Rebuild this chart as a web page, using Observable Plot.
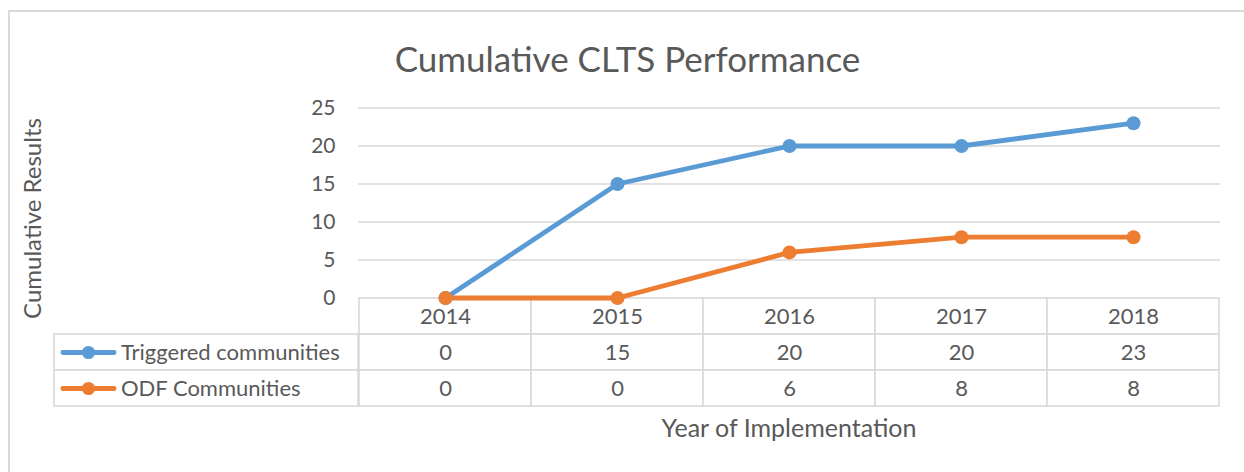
<!DOCTYPE html>
<html>
<head>
<meta charset="utf-8">
<script src="https://cdn.jsdelivr.net/npm/d3@7"></script>
<script src="https://cdn.jsdelivr.net/npm/@observablehq/plot@0.6"></script>
<style>
  html, body { margin: 0; padding: 0; background: #fff; overflow: hidden; }
  body { width: 1244px; height: 472px; position: relative; font-family: Lato, "Open Sans", sans-serif; color: #595959; }
  #clip { position: absolute; left: 0; top: 0; width: 1244px; height: 472px; overflow: hidden; }
  #frame { position: absolute; left: 8px; top: 10px; width: 1236px; height: 462px; border-left: 2px solid #dadada; border-top: 2px solid #dadada; box-sizing: border-box; }
  .layer { position: absolute; left: 0; top: 0; }
  #title { position: absolute; left: 0; width: 1255px; top: 41px; text-align: center; font-size: 35px; line-height: 1; white-space: nowrap; }
  #xtitle { position: absolute; left: 0; width: 1578px; top: 415px; text-align: center; font-size: 25px; line-height: 1; white-space: nowrap; }
</style>
</head>
<body>
<div id="clip">
<div id="frame"></div>
<div id="table" class="layer"></div>
<div id="legend" class="layer"></div>
<div id="chart" class="layer"></div>
<div id="title">Cumulative CLTS Performance</div>
<div id="xtitle">Year of Implementation</div>
</div>
<script>
// ---- data ----
const years = ["2014", "2015", "2016", "2017", "2018"];
const seriesNames = ["Triggered communities", "ODF Communities"];
const triggered = [0, 15, 20, 20, 23];
const odf = [0, 0, 6, 8, 8];
const yTicks = [0, 5, 10, 15, 20, 25];
const colors = ["#5b9bd5", "#ed7d31"];
const title = "Cumulative CLTS Performance";
const yLabel = "Cumulative Results";
const xLabel = "Year of Implementation";

const series = [triggered, odf];
const points = series.flatMap((vals, s) => vals.map((v, i) => ({name: seriesNames[s], year: years[i], value: v})));
const headerRow = "Year";
const cells = [
  ...years.map(y => ({row: headerRow, year: y, text: y})),
  ...points.map(p => ({row: p.name, year: p.year, text: String(p.value)}))
];

const W = 1244, H = 472;
const common = {
  width: W, height: H,
  style: {fontFamily: "Lato, 'Open Sans', sans-serif", background: "transparent", color: "#595959", overflow: "visible"}
};
const grid = "#d9d9d9";

// ---- data table (year columns) ----
const table = Plot.plot({
  ...common,
  marginLeft: 358, marginRight: 24, marginTop: 297.5, marginBottom: 65.5,
  x: {type: "band", domain: years, padding: 0, axis: null},
  y: {type: "band", domain: [headerRow, ...seriesNames], padding: 0, axis: null},
  marks: [
    Plot.cell(cells, {x: "year", y: "row", fill: "white", stroke: grid, strokeWidth: 1.6}),
    Plot.text(cells, {x: "year", y: "row", text: "text", fontSize: 22, fill: "#595959"})
  ]
});
document.getElementById("table").appendChild(table);

// ---- legend column of the table ----
const swatch = {
  draw(ctx) {
    const w = 28, h = 2.4, r = 6.6;
    ctx.moveTo(-w + h, -h);
    ctx.lineTo(w - h, -h);
    ctx.arc(w - h, 0, h, -Math.PI / 2, Math.PI / 2);
    ctx.lineTo(-w + h, h);
    ctx.arc(-w + h, 0, h, Math.PI / 2, 3 * Math.PI / 2);
    ctx.closePath();
    ctx.moveTo(r, 0);
    ctx.arc(0, 0, r, 0, 2 * Math.PI);
    ctx.closePath();
  }
};
const legend = Plot.plot({
  ...common,
  marginLeft: 54, marginRight: W - 358, marginTop: 333.4, marginBottom: 65.5,
  y: {type: "band", domain: seriesNames, padding: 0, axis: null},
  color: {domain: seriesNames, range: colors},
  marks: [
    Plot.cell(seriesNames, {y: d => d, fill: "white", stroke: grid, strokeWidth: 1.6}),
    Plot.dot(seriesNames, {y: d => d, frameAnchor: "left", dx: 34, symbol: swatch, fill: d => d, stroke: "none"}),
    Plot.text(seriesNames, {y: d => d, text: d => d, frameAnchor: "left", dx: 66.5, textAnchor: "start", fontSize: 22, fill: "#595959"})
  ]
});
document.getElementById("legend").appendChild(legend);

// ---- line chart ----
const chart = Plot.plot({
  ...common,
  marginLeft: 358, marginRight: 24, marginTop: 107.5, marginBottom: H - 297.5,
  x: {type: "band", domain: years, padding: 0, axis: null},
  y: {domain: [0, 25], axis: null},
  color: {domain: seriesNames, range: colors},
  marks: [
    Plot.gridY(yTicks.filter(t => t > 0), {stroke: grid, strokeOpacity: 1, strokeWidth: 1.6}),
    Plot.axisY(yTicks, {tickSize: 0, tickPadding: 23, fontSize: 21, label: null, fill: "#595959"}),
    Plot.text([yLabel], {text: d => d, frameAnchor: "left", textAnchor: "middle", lineAnchor: "middle", rotate: -90, dx: -325, dy: 15.5, fontSize: 24, fill: "#595959"}),
    Plot.line(points, {x: "year", y: "value", z: "name", stroke: "name", strokeWidth: 4.8, strokeLinecap: "round", strokeLinejoin: "round"}),
    Plot.dot(points, {x: "year", y: "value", fill: "name", r: 7, stroke: "none"})
  ]
});
document.getElementById("chart").appendChild(chart);
</script>
</body>
</html>
